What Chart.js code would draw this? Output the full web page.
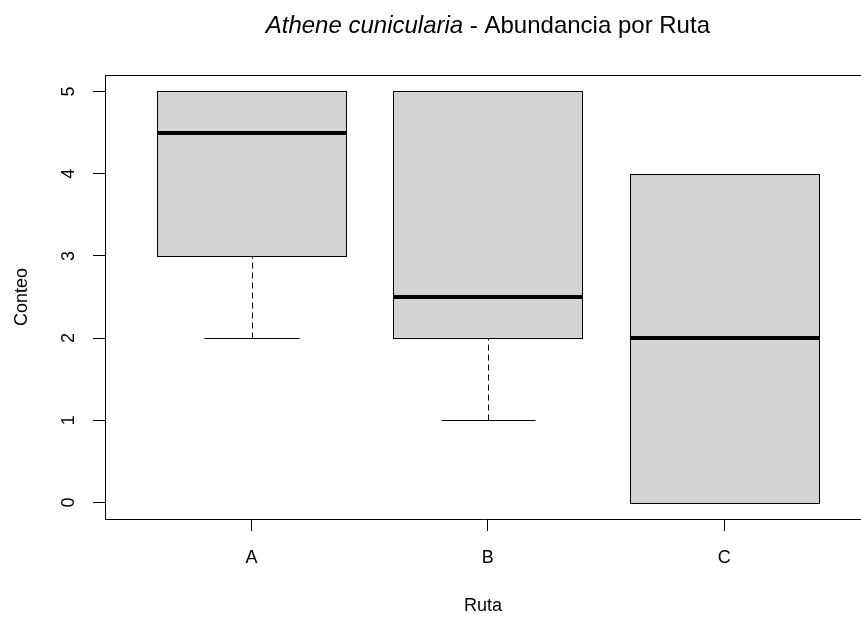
<!DOCTYPE html>
<html>
<head>
<meta charset="utf-8">
<script src="https://cdn.jsdelivr.net/npm/chart.js@4.4.0/dist/chart.umd.min.js"></script>
<style>
  html, body { margin: 0; padding: 0; background: #fff; }
  #wrap { width: 861px; height: 617px; position: relative; }
</style>
</head>
<body>
<div id="wrap"><canvas id="chart-abundancia"></canvas></div>
<script>
const rutas = ['A', 'B', 'C'];
const bigoteInf = [2, 1, 0];
const cuartil1 = [3, 2, 0];
const mediana = [4.5, 2.5, 2];
const cuartil3 = [5, 5, 4];
const bigoteSup = [5, 5, 4];
const yTicks = [0, 1, 2, 3, 4, 5];

const fuente = '"Liberation Sans", Arial, sans-serif';

// Dibuja las cajas con las escalas del gráfico
const cajas = {
    id: 'cajas',
    afterDatasetsDraw(chart) {
        const ctx = chart.ctx;
        const x = chart.scales.x;
        const y = chart.scales.y;
        const px = v => Math.round(x.getPixelForValue(v)) + 0.5;
        const py = v => Math.round(y.getPixelForValue(v)) + 0.5;
        const linea = (a, b, c, d) => { ctx.beginPath(); ctx.moveTo(a, b); ctx.lineTo(c, d); ctx.stroke(); };

        ctx.save();
        ctx.strokeStyle = '#000';
        rutas.forEach(function(r, i) {
            const c = i + 1;
            const x0 = px(c - 0.4), x1 = px(c + 0.4);
            const cx = px(c);
            const s0 = px(c - 0.2), s1 = px(c + 0.2);
            const yInf = py(bigoteInf[i]), yQ1 = py(cuartil1[i]);
            const yQ3 = py(cuartil3[i]), ySup = py(bigoteSup[i]);

            ctx.lineWidth = 1;
            ctx.setLineDash([6, 4]);
            linea(cx, yInf, cx, yQ1);
            linea(cx, yQ3, cx, ySup);
            ctx.setLineDash([]);
            linea(s0, yInf, s1, yInf);
            linea(s0, ySup, s1, ySup);

            ctx.fillStyle = '#d3d3d3';
            ctx.fillRect(x0, yQ3, x1 - x0, yQ1 - yQ3);
            ctx.strokeRect(x0, yQ3, x1 - x0, yQ1 - yQ3);

            ctx.lineWidth = 4;
            const yMed = Math.round(y.getPixelForValue(mediana[i]));
            linea(x0, yMed, x1, yMed);
        });

        // borde superior del marco
        const top = chart.chartArea.top + 0.5;
        ctx.lineWidth = 1;
        linea(chart.chartArea.left, top, chart.chartArea.right, top);

        // título con parte en cursiva
        const t1 = 'Athene cunicularia';
        const t2 = ' - Abundancia por Ruta';
        ctx.fillStyle = '#000';
        ctx.textBaseline = 'middle';
        ctx.textAlign = 'left';
        ctx.font = 'italic 24px ' + fuente;
        const w1 = ctx.measureText(t1).width;
        ctx.font = '24px ' + fuente;
        const w2 = ctx.measureText(t2).width;
        const centro = x.getPixelForValue(2);
        const inicio = centro - (w1 + w2) / 2;
        ctx.font = 'italic 24px ' + fuente;
        ctx.fillText(t1, inicio, 26);
        ctx.font = '24px ' + fuente;
        ctx.fillText(t2, inicio + w1, 26);
        ctx.restore();
    }
};

const ctx = document.getElementById('chart-abundancia').getContext('2d');
new Chart(ctx, {
    type: 'scatter',
    data: {
        datasets: [{
            data: rutas.map((r, i) => ({ x: i + 1, y: mediana[i] })),
            pointRadius: 0,
            showLine: false
        }]
    },
    options: {
        responsive: true,
        maintainAspectRatio: false,
        animation: false,
        layout: { padding: { top: 75, right: 0, bottom: 0, left: 0 } },
        plugins: {
            legend: { display: false },
            tooltip: { enabled: false },
            title: { display: false }
        },
        scales: {
            x: {
                type: 'linear',
                min: 0.38,
                max: 3.579,
                afterBuildTicks: s => { s.ticks = [1, 2, 3].map(v => ({ value: v })); },
                afterFit: s => { s.height = 98; },
                grid: { display: true, drawOnChartArea: false, drawTicks: true, tickLength: 12, tickColor: '#000', tickWidth: 1 },
                border: { display: true, color: '#000', width: 1 },
                ticks: {
                    autoSkip: false,
                    maxRotation: 0,
                    padding: 16,
                    color: '#000',
                    font: { family: fuente, size: 18 },
                    callback: v => rutas[v - 1]
                },
                title: {
                    display: true,
                    text: 'Ruta',
                    color: '#000',
                    font: { family: fuente, size: 18 },
                    padding: { top: 0, bottom: 0 }
                }
            },
            y: {
                type: 'linear',
                min: -0.2,
                max: 5.2,
                afterBuildTicks: s => { s.ticks = yTicks.map(v => ({ value: v })); },
                afterFit: s => { s.width = 105; },
                grid: { display: true, drawOnChartArea: false, drawTicks: true, tickLength: 12, tickColor: '#000', tickWidth: 1 },
                border: { display: true, color: '#000', width: 1 },
                ticks: {
                    autoSkip: false,
                    minRotation: 90,
                    maxRotation: 90,
                    crossAlign: 'center',
                    padding: 19,
                    color: '#000',
                    font: { family: fuente, size: 18 },
                    callback: v => String(v)
                },
                title: {
                    display: true,
                    text: 'Conteo',
                    color: '#000',
                    font: { family: fuente, size: 18 },
                    padding: { top: 11, bottom: 0 }
                }
            }
        }
    },
    plugins: [cajas]
});
</script>
</body>
</html>
